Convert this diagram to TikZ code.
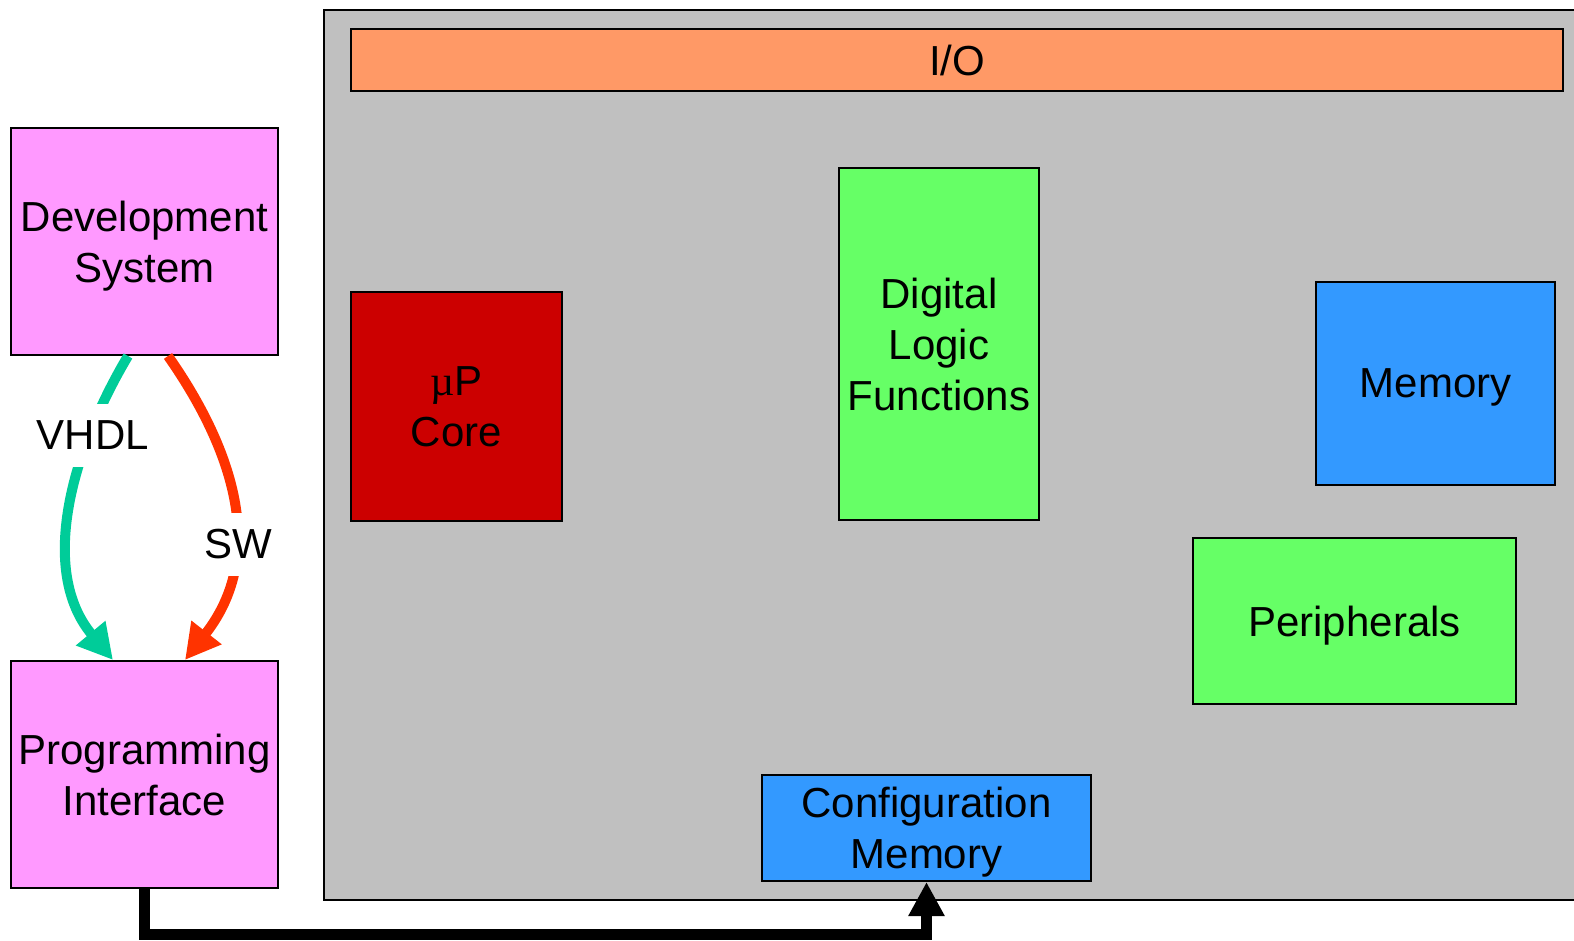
\documentclass[tikz,border=0pt]{standalone}
\usepackage{fontspec}
\setmainfont{Liberation Sans}
\newfontfamily\mufont{Liberation Serif}
\usetikzlibrary{arrows.meta, positioning, calc}

\definecolor{devpink}{HTML}{FF99FF}
\definecolor{chipgray}{HTML}{C0C0C0}
\definecolor{ioorange}{HTML}{FF9966}
\definecolor{corered}{HTML}{CC0000}
\definecolor{logicgreen}{HTML}{66FF66}
\definecolor{memblue}{HTML}{3399FF}
\definecolor{vhdlteal}{HTML}{00CC99}
\definecolor{swred}{HTML}{FF3300}

\begin{document}
\begin{tikzpicture}[x=1pt, y=-1pt,
    % Node styles with colors
    blockbox/.style={rectangle, draw=black, line width=2pt, inner sep=0pt, align=center, text depth=0pt, font=\fontsize{42}{51}\selectfont},
    devbox/.style={blockbox, fill=devpink, minimum width=267pt, minimum height=227pt},
    chipbox/.style={rectangle, fill=chipgray, draw=none, minimum width=1250pt, minimum height=890pt},
    iobox/.style={blockbox, fill=ioorange, minimum width=1212pt, minimum height=62pt},
    corebox/.style={blockbox, fill=corered},
    logicbox/.style={blockbox, fill=logicgreen},
    membox/.style={blockbox, fill=memblue},
    flowlab/.style={fill=white, inner xsep=6pt, inner ysep=17pt, text depth=0pt, font=\fontsize{42}{51}\selectfont},
    vhdlarrow/.style={-{Triangle[length=35pt, width=36pt]}, line width=10pt, vhdlteal},
    swarrow/.style={-{Triangle[length=35pt, width=36pt]}, line width=10pt, swred},
    busarrow/.style={-{Triangle[length=34pt, width=34pt]}, line width=11pt, black}
]

\useasboundingbox (0,0) rectangle (1574,941);

% === CHIP ===
\node[chipbox] (chip) at (949, 455) {};
\draw[line width=2pt] (chip.north east) -- (chip.north west) -- (chip.south west) -- (chip.south east);

\node[iobox] (io) at (957, 60) {I/O};
\node[corebox, minimum width=211pt, minimum height=229pt] (core) at (456.5, 406.5) {{\mufont µ}P\\Core};
\node[logicbox, minimum width=200pt, minimum height=352pt] (dlf) at (939, 344) {Digital\\Logic\\Functions};
\node[membox, minimum width=239pt, minimum height=203pt] (mem) at (1435.5, 383.5) {Memory};
\node[logicbox, minimum width=323pt, minimum height=166pt] (periph) at (1354.5, 621) {Peripherals};
\node[membox, minimum width=329pt, minimum height=106pt] (cfg) at (926.5, 828) {Configuration\\Memory};

% === HOST SIDE ===
\node[devbox] (dev) at (144.5, 241.5) {Development\\System};
\node[devbox] (prog) at (144.5, 774.5) {Programming\\Interface};

% VHDL and SW flows
\draw[vhdlarrow] ([xshift=-16.5pt]dev.south) .. controls (72, 450) and (38, 570) .. ([xshift=-31.5pt]prog.north)
    node[flowlab, pos=0.265, xshift=3pt, text=black] {VHDL};
\draw[swarrow] ([xshift=23.5pt]dev.south) .. controls (220, 430) and (275, 545) .. ([xshift=40.5pt]prog.north)
    node[flowlab, pos=0.66, xshift=6pt, text=black] {SW};

% Bus to configuration memory
\coordinate (busturn) at (144.5, 934);
\draw[busarrow] (prog.south) -- (busturn) -| (cfg.south);

\end{tikzpicture}
\end{document}
